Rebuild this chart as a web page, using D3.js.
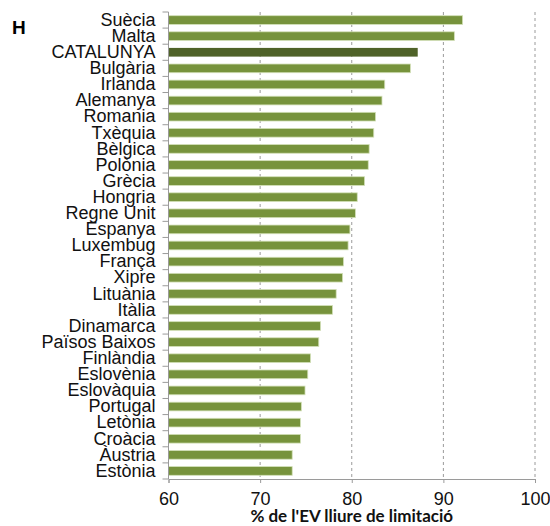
<!DOCTYPE html>
<html>
<head>
<meta charset="utf-8">
<script src="https://cdn.jsdelivr.net/npm/d3@7"></script>
<style>
  body { margin: 0; background: #fff; }
  svg { display: block; }
</style>
</head>
<body>
<div class="chart"></div>
<script>
const countries = ["Suècia", "Malta", "CATALUNYA", "Bulgària", "Irlanda", "Alemanya", "Romania", "Txèquia",
  "Bèlgica", "Polònia", "Grècia", "Hongria", "Regne Unit", "Espanya", "Luxembug", "França", "Xipre",
  "Lituània", "Itàlia", "Dinamarca", "Països Baixos", "Finlàndia", "Eslovènia", "Eslovàquia",
  "Portugal", "Letònia", "Croàcia", "Àustria", "Estònia"]
const values = [92.1, 91.2, 87.2, 86.4, 83.6, 83.3, 82.6, 82.4, 81.9, 81.8, 81.4, 80.6, 80.4, 79.8, 79.6,
  79.1, 79.0, 78.3, 77.9, 76.6, 76.4, 75.5, 75.2, 74.9, 74.5, 74.4, 74.4, 73.5, 73.5]
const xTicks = [60, 70, 80, 90, 100]
const highlight = "CATALUNYA"
const xTitle = "% de l'EV lliure de limitació"
const panel = "H"

const data = countries.map((c, i) => ({name: c, value: values[i]}))

const margin = {top: 12, right: 15, bottom: 47, left: 168.5}
const width = 550 - margin.left - margin.right
const height = 526 - margin.top - margin.bottom
const sans = "'Liberation Sans', Arial, sans-serif"

const svg = d3.select(".chart").append("svg").attr("width", 550).attr("height", 526)
const g = svg.append("g").attr("transform", `translate(${margin.left},${margin.top})`)

const x = d3.scaleLinear().domain([60, 100]).range([0, width])
const y = d3.scaleBand().domain(countries).range([0, height]).paddingInner(0.46).paddingOuter(0.23)

// dashed gridlines
g.selectAll(".grid").data(xTicks.slice(1)).enter().append("line")
  .attr("x1", d => x(d)).attr("x2", d => x(d))
  .attr("y1", 0).attr("y2", height)
  .attr("stroke", "#9a9a9a").attr("stroke-width", 1).attr("stroke-dasharray", "3,3")

// bars
g.selectAll(".bar").data(data).enter().append("rect")
  .attr("x", x(60))
  .attr("y", d => y(d.name))
  .attr("width", d => x(d.value) - x(60))
  .attr("height", y.bandwidth())
  .attr("fill", d => d.name === highlight ? "#4F6228" : "#77933C")
  .attr("stroke", d => d.name === highlight ? "none" : "#d3e0b8")
  .attr("stroke-width", 0.8)

// x axis
const xAxis = g.append("g").attr("transform", `translate(0,${height})`)
  .call(d3.axisBottom(x).tickValues(xTicks).tickSize(4).tickPadding(9))
xAxis.attr("font-family", sans).attr("font-size", 18)
xAxis.select(".domain").attr("stroke", "#9a9a9a")
xAxis.selectAll(".tick line").attr("stroke", "#9a9a9a")
xAxis.selectAll("text").attr("fill", "#111")

// y axis line and boundary ticks
g.append("line").attr("x1", 0).attr("x2", 0).attr("y1", 0).attr("y2", height)
  .attr("stroke", "#9a9a9a")
g.selectAll(".ytick").data(d3.range(countries.length + 1)).enter().append("line")
  .attr("x1", -6).attr("x2", 0)
  .attr("y1", i => i * y.step()).attr("y2", i => i * y.step())
  .attr("stroke", "#9a9a9a")

const yAxis = g.append("g").call(d3.axisLeft(y).tickSize(0).tickPadding(13))
yAxis.attr("font-family", sans).attr("font-size", 18)
yAxis.select(".domain").remove()
yAxis.selectAll("text").attr("fill", "#111")

// x title, sized to span about 206px like the original
const title = svg.append("text").attr("x", margin.left + width / 2).attr("y", 522)
  .attr("text-anchor", "middle")
  .attr("font-family", "Lato, sans-serif").attr("font-weight", "bold").attr("font-size", 16)
  .attr("fill", "#111")
  .text(xTitle)
const tw = title.node().getComputedTextLength()
title.attr("font-size", Math.min(17, 16 * 206 / tw))

// panel letter
svg.append("text").attr("x", 12).attr("y", 34)
  .attr("font-family", sans).attr("font-weight", "bold")
  .attr("font-size", 19).attr("fill", "#000")
  .text(panel)
</script>
</body>
</html>
